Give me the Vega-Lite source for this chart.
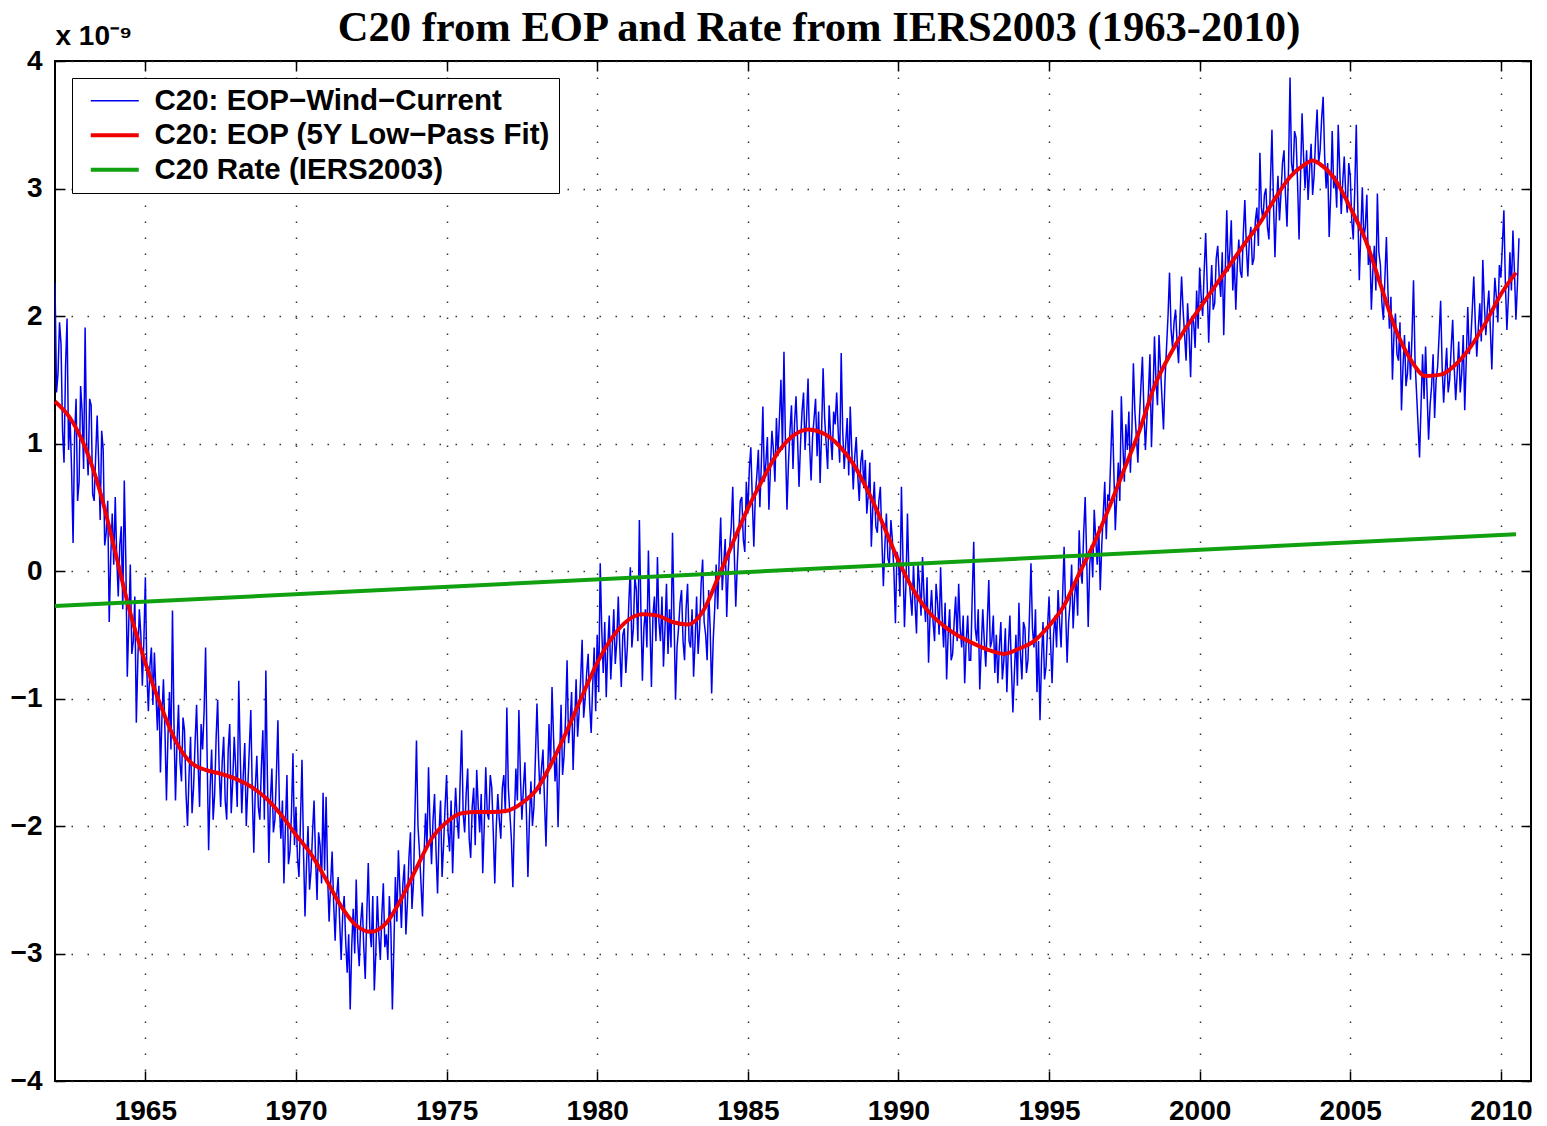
{
 "$schema": "https://vega.github.io/schema/vega-lite/v6.json",
 "width": 1476, "height": 1020,
 "autosize": {"type": "none"},
 "padding": {"left": 55, "top": 61, "right": 16, "bottom": 45},
 "background": "white",
 "title": {"text": "C20 from EOP and Rate from IERS2003 (1963-2010)", "font": "Liberation Serif", "fontSize": 42.6, "fontWeight": "bold", "color": "black", "anchor": "middle", "frame": "group", "baseline": "alphabetic", "offset": -62, "dx": 26},
 "config": {
  "view": {"stroke": "black", "strokeWidth": 2},
  "axis": {"labelFont": "Liberation Sans", "labelFontWeight": "bold", "labelFontSize": 28, "labelColor": "black", "tickColor": "black", "tickWidth": 1.5, "domain": false}
 },
 "datasets": {
  "blue": [
{"t":1962.0,"v":2.26},{"t":1962.05,"v":1.40},{"t":1962.1,"v":1.55},{"t":1962.15,"v":1.95},{"t":1962.2,"v":1.78},{"t":1962.25,"v":1.10},{"t":1962.3,"v":0.85},{"t":1962.35,"v":1.60},{"t":1962.4,"v":1.98},{"t":1962.45,"v":0.95},{"t":1962.5,"v":1.20},{"t":1962.55,"v":0.80},{"t":1962.6,"v":0.22},{"t":1962.65,"v":1.05},{"t":1962.7,"v":1.35},{"t":1962.75,"v":0.55},{"t":1962.8,"v":0.70},{"t":1962.85,"v":1.45},{"t":1962.9,"v":1.25},{"t":1962.95,"v":0.80},
{"t":1963.0,"v":1.91},{"t":1963.05,"v":1.00},{"t":1963.1,"v":0.75},{"t":1963.15,"v":1.35},{"t":1963.2,"v":1.30},{"t":1963.25,"v":0.60},{"t":1963.3,"v":0.55},{"t":1963.35,"v":0.90},{"t":1963.4,"v":1.22},{"t":1963.45,"v":0.85},{"t":1963.5,"v":0.40},{"t":1963.55,"v":1.10},{"t":1963.6,"v":0.95},{"t":1963.65,"v":0.20},{"t":1963.7,"v":0.30},{"t":1963.75,"v":0.55},{"t":1963.8,"v":-0.40},{"t":1963.85,"v":0.10},{"t":1963.9,"v":0.45},{"t":1963.95,"v":0.05},
{"t":1964.0,"v":0.58},{"t":1964.05,"v":0.10},{"t":1964.1,"v":-0.20},{"t":1964.15,"v":0.20},{"t":1964.2,"v":0.35},{"t":1964.25,"v":-0.30},{"t":1964.3,"v":0.71},{"t":1964.35,"v":0.10},{"t":1964.4,"v":-0.83},{"t":1964.45,"v":-0.40},{"t":1964.5,"v":0.05},{"t":1964.55,"v":-0.65},{"t":1964.6,"v":-0.55},{"t":1964.65,"v":-0.20},{"t":1964.7,"v":-1.19},{"t":1964.75,"v":-0.70},{"t":1964.8,"v":-0.30},{"t":1964.85,"v":-0.50},{"t":1964.9,"v":-0.90},{"t":1964.95,"v":-0.55},
{"t":1965.0,"v":-0.05},{"t":1965.05,"v":-0.80},{"t":1965.1,"v":-1.10},{"t":1965.15,"v":-0.75},{"t":1965.2,"v":-0.60},{"t":1965.25,"v":-1.05},{"t":1965.3,"v":-0.64},{"t":1965.35,"v":-0.95},{"t":1965.4,"v":-1.25},{"t":1965.45,"v":-0.90},{"t":1965.5,"v":-1.58},{"t":1965.55,"v":-1.15},{"t":1965.6,"v":-0.85},{"t":1965.65,"v":-1.25},{"t":1965.7,"v":-1.80},{"t":1965.75,"v":-1.30},{"t":1965.8,"v":-0.95},{"t":1965.85,"v":-1.40},{"t":1965.9,"v":-0.31},{"t":1965.95,"v":-1.20},
{"t":1966.0,"v":-1.80},{"t":1966.05,"v":-1.35},{"t":1966.1,"v":-1.05},{"t":1966.15,"v":-1.50},{"t":1966.2,"v":-1.65},{"t":1966.25,"v":-1.15},{"t":1966.3,"v":-1.25},{"t":1966.35,"v":-1.75},{"t":1966.4,"v":-2.00},{"t":1966.45,"v":-1.60},{"t":1966.5,"v":-1.30},{"t":1966.55,"v":-1.90},{"t":1966.6,"v":-1.70},{"t":1966.65,"v":-1.35},{"t":1966.7,"v":-1.05},{"t":1966.75,"v":-1.50},{"t":1966.8,"v":-1.85},{"t":1966.85,"v":-1.20},{"t":1966.9,"v":-1.40},{"t":1966.95,"v":-1.10},
{"t":1967.0,"v":-0.60},{"t":1967.05,"v":-1.45},{"t":1967.1,"v":-2.19},{"t":1967.15,"v":-1.70},{"t":1967.2,"v":-1.40},{"t":1967.25,"v":-1.95},{"t":1967.3,"v":-1.75},{"t":1967.35,"v":-1.30},{"t":1967.4,"v":-1.01},{"t":1967.45,"v":-1.55},{"t":1967.5,"v":-1.85},{"t":1967.55,"v":-1.50},{"t":1967.6,"v":-1.30},{"t":1967.65,"v":-1.80},{"t":1967.7,"v":-1.95},{"t":1967.75,"v":-1.40},{"t":1967.8,"v":-1.20},{"t":1967.85,"v":-1.90},{"t":1967.9,"v":-1.65},{"t":1967.95,"v":-1.30},
{"t":1968.0,"v":-1.55},{"t":1968.05,"v":-1.85},{"t":1968.1,"v":-0.86},{"t":1968.15,"v":-1.45},{"t":1968.2,"v":-1.90},{"t":1968.25,"v":-1.60},{"t":1968.3,"v":-1.35},{"t":1968.35,"v":-2.00},{"t":1968.4,"v":-1.70},{"t":1968.45,"v":-1.40},{"t":1968.5,"v":-1.09},{"t":1968.55,"v":-1.75},{"t":1968.6,"v":-2.21},{"t":1968.65,"v":-1.70},{"t":1968.7,"v":-1.45},{"t":1968.75,"v":-1.85},{"t":1968.8,"v":-1.95},{"t":1968.85,"v":-1.55},{"t":1968.9,"v":-1.25},{"t":1968.95,"v":-1.95},
{"t":1969.0,"v":-0.78},{"t":1969.05,"v":-1.60},{"t":1969.1,"v":-2.29},{"t":1969.15,"v":-1.80},{"t":1969.2,"v":-1.55},{"t":1969.25,"v":-2.05},{"t":1969.3,"v":-1.95},{"t":1969.35,"v":-1.60},{"t":1969.4,"v":-1.17},{"t":1969.45,"v":-1.85},{"t":1969.5,"v":-2.10},{"t":1969.55,"v":-1.80},{"t":1969.6,"v":-2.45},{"t":1969.65,"v":-2.00},{"t":1969.7,"v":-1.60},{"t":1969.75,"v":-2.30},{"t":1969.8,"v":-2.20},{"t":1969.85,"v":-1.90},{"t":1969.9,"v":-1.43},{"t":1969.95,"v":-2.15},
{"t":1970.0,"v":-1.85},{"t":1970.05,"v":-2.25},{"t":1970.1,"v":-2.40},{"t":1970.15,"v":-1.95},{"t":1970.2,"v":-1.48},{"t":1970.25,"v":-2.20},{"t":1970.3,"v":-2.71},{"t":1970.35,"v":-2.30},{"t":1970.4,"v":-2.00},{"t":1970.45,"v":-2.50},{"t":1970.5,"v":-2.35},{"t":1970.55,"v":-2.05},{"t":1970.6,"v":-1.80},{"t":1970.65,"v":-2.25},{"t":1970.7,"v":-2.58},{"t":1970.75,"v":-2.05},{"t":1970.8,"v":-2.15},{"t":1970.85,"v":-2.45},{"t":1970.9,"v":-1.74},{"t":1970.95,"v":-2.35},
{"t":1971.0,"v":-1.77},{"t":1971.05,"v":-2.40},{"t":1971.1,"v":-2.75},{"t":1971.15,"v":-2.45},{"t":1971.2,"v":-2.20},{"t":1971.25,"v":-2.60},{"t":1971.3,"v":-2.90},{"t":1971.35,"v":-2.55},{"t":1971.4,"v":-2.40},{"t":1971.45,"v":-2.75},{"t":1971.5,"v":-3.05},{"t":1971.55,"v":-2.70},{"t":1971.6,"v":-2.55},{"t":1971.65,"v":-2.90},{"t":1971.7,"v":-3.15},{"t":1971.75,"v":-2.85},{"t":1971.8,"v":-3.44},{"t":1971.85,"v":-2.95},{"t":1971.9,"v":-2.65},{"t":1971.95,"v":-3.00},
{"t":1972.0,"v":-2.42},{"t":1972.05,"v":-2.90},{"t":1972.1,"v":-3.10},{"t":1972.15,"v":-2.75},{"t":1972.2,"v":-2.60},{"t":1972.25,"v":-2.95},{"t":1972.3,"v":-3.20},{"t":1972.35,"v":-2.70},{"t":1972.4,"v":-2.29},{"t":1972.45,"v":-2.80},{"t":1972.5,"v":-2.95},{"t":1972.55,"v":-2.55},{"t":1972.6,"v":-3.29},{"t":1972.65,"v":-3.00},{"t":1972.7,"v":-2.55},{"t":1972.75,"v":-2.85},{"t":1972.8,"v":-3.05},{"t":1972.85,"v":-2.70},{"t":1972.9,"v":-2.45},{"t":1972.95,"v":-2.95},
{"t":1973.0,"v":-2.85},{"t":1973.05,"v":-3.05},{"t":1973.1,"v":-2.55},{"t":1973.15,"v":-2.80},{"t":1973.2,"v":-3.44},{"t":1973.25,"v":-2.95},{"t":1973.3,"v":-2.40},{"t":1973.35,"v":-2.75},{"t":1973.4,"v":-2.19},{"t":1973.45,"v":-2.50},{"t":1973.5,"v":-2.80},{"t":1973.55,"v":-2.45},{"t":1973.6,"v":-2.30},{"t":1973.65,"v":-2.85},{"t":1973.7,"v":-2.60},{"t":1973.75,"v":-2.25},{"t":1973.8,"v":-2.05},{"t":1973.85,"v":-2.65},{"t":1973.9,"v":-2.45},{"t":1973.95,"v":-1.90},
{"t":1974.0,"v":-1.33},{"t":1974.05,"v":-2.00},{"t":1974.1,"v":-2.20},{"t":1974.15,"v":-2.45},{"t":1974.2,"v":-2.71},{"t":1974.25,"v":-2.25},{"t":1974.3,"v":-1.90},{"t":1974.35,"v":-2.15},{"t":1974.4,"v":-1.54},{"t":1974.45,"v":-2.00},{"t":1974.5,"v":-2.30},{"t":1974.55,"v":-1.95},{"t":1974.6,"v":-1.75},{"t":1974.65,"v":-2.20},{"t":1974.7,"v":-2.53},{"t":1974.75,"v":-2.05},{"t":1974.8,"v":-1.80},{"t":1974.85,"v":-2.40},{"t":1974.9,"v":-2.15},{"t":1974.95,"v":-1.85},
{"t":1975.0,"v":-1.60},{"t":1975.05,"v":-2.05},{"t":1975.1,"v":-2.20},{"t":1975.15,"v":-1.80},{"t":1975.2,"v":-2.37},{"t":1975.25,"v":-2.00},{"t":1975.3,"v":-1.70},{"t":1975.35,"v":-1.95},{"t":1975.4,"v":-2.10},{"t":1975.45,"v":-1.65},{"t":1975.5,"v":-1.25},{"t":1975.55,"v":-1.90},{"t":1975.6,"v":-2.05},{"t":1975.65,"v":-1.75},{"t":1975.7,"v":-1.55},{"t":1975.75,"v":-2.10},{"t":1975.8,"v":-2.25},{"t":1975.85,"v":-1.85},{"t":1975.9,"v":-1.70},{"t":1975.95,"v":-2.15},
{"t":1976.0,"v":-1.56},{"t":1976.05,"v":-1.85},{"t":1976.1,"v":-2.05},{"t":1976.15,"v":-1.75},{"t":1976.2,"v":-2.37},{"t":1976.25,"v":-2.00},{"t":1976.3,"v":-1.54},{"t":1976.35,"v":-1.90},{"t":1976.4,"v":-1.95},{"t":1976.45,"v":-1.60},{"t":1976.5,"v":-1.70},{"t":1976.55,"v":-2.05},{"t":1976.6,"v":-2.45},{"t":1976.65,"v":-2.00},{"t":1976.7,"v":-1.75},{"t":1976.75,"v":-1.95},{"t":1976.8,"v":-2.10},{"t":1976.85,"v":-1.70},{"t":1976.9,"v":-1.60},{"t":1976.95,"v":-1.90},
{"t":1977.0,"v":-1.07},{"t":1977.05,"v":-1.70},{"t":1977.1,"v":-1.90},{"t":1977.15,"v":-2.10},{"t":1977.2,"v":-2.48},{"t":1977.25,"v":-1.95},{"t":1977.3,"v":-1.55},{"t":1977.35,"v":-1.80},{"t":1977.4,"v":-1.09},{"t":1977.45,"v":-1.60},{"t":1977.5,"v":-1.95},{"t":1977.55,"v":-1.70},{"t":1977.6,"v":-1.50},{"t":1977.65,"v":-1.90},{"t":1977.7,"v":-2.40},{"t":1977.75,"v":-1.95},{"t":1977.8,"v":-1.65},{"t":1977.85,"v":-2.00},{"t":1977.9,"v":-1.85},{"t":1977.95,"v":-1.45},
{"t":1978.0,"v":-1.04},{"t":1978.05,"v":-1.45},{"t":1978.1,"v":-1.75},{"t":1978.15,"v":-1.55},{"t":1978.2,"v":-1.40},{"t":1978.25,"v":-1.80},{"t":1978.3,"v":-2.16},{"t":1978.35,"v":-1.65},{"t":1978.4,"v":-1.20},{"t":1978.45,"v":-1.55},{"t":1978.5,"v":-0.91},{"t":1978.55,"v":-1.30},{"t":1978.6,"v":-1.65},{"t":1978.65,"v":-1.45},{"t":1978.7,"v":-2.01},{"t":1978.75,"v":-1.50},{"t":1978.8,"v":-1.05},{"t":1978.85,"v":-1.60},{"t":1978.9,"v":-1.45},{"t":1978.95,"v":-1.15},
{"t":1979.0,"v":-0.70},{"t":1979.05,"v":-1.35},{"t":1979.1,"v":-1.20},{"t":1979.15,"v":-0.95},{"t":1979.2,"v":-1.56},{"t":1979.25,"v":-1.20},{"t":1979.3,"v":-0.85},{"t":1979.35,"v":-1.30},{"t":1979.4,"v":-1.10},{"t":1979.45,"v":-0.85},{"t":1979.5,"v":-0.54},{"t":1979.55,"v":-1.15},{"t":1979.6,"v":-1.00},{"t":1979.65,"v":-0.80},{"t":1979.7,"v":-0.65},{"t":1979.75,"v":-1.05},{"t":1979.8,"v":-1.27},{"t":1979.85,"v":-0.90},{"t":1979.9,"v":-0.60},{"t":1979.95,"v":-1.10},
{"t":1980.0,"v":-0.50},{"t":1980.05,"v":-0.95},{"t":1980.1,"v":0.06},{"t":1980.15,"v":-0.45},{"t":1980.2,"v":-0.80},{"t":1980.25,"v":-0.40},{"t":1980.3,"v":-0.99},{"t":1980.35,"v":-0.60},{"t":1980.4,"v":-0.35},{"t":1980.45,"v":-0.85},{"t":1980.5,"v":-0.60},{"t":1980.55,"v":-0.30},{"t":1980.6,"v":-0.73},{"t":1980.65,"v":-0.55},{"t":1980.7,"v":-0.20},{"t":1980.75,"v":-0.60},{"t":1980.8,"v":-0.91},{"t":1980.85,"v":-0.50},{"t":1980.9,"v":-0.45},{"t":1980.95,"v":-0.80},
{"t":1981.0,"v":-0.60},{"t":1981.05,"v":-0.25},{"t":1981.1,"v":0.03},{"t":1981.15,"v":-0.60},{"t":1981.2,"v":-0.45},{"t":1981.25,"v":-0.05},{"t":1981.3,"v":-0.15},{"t":1981.35,"v":-0.55},{"t":1981.4,"v":0.40},{"t":1981.45,"v":-0.30},{"t":1981.5,"v":-0.86},{"t":1981.55,"v":-0.45},{"t":1981.6,"v":-0.30},{"t":1981.65,"v":-0.60},{"t":1981.7,"v":0.16},{"t":1981.75,"v":-0.40},{"t":1981.8,"v":-0.91},{"t":1981.85,"v":-0.35},{"t":1981.9,"v":-0.20},{"t":1981.95,"v":-0.55},
{"t":1982.0,"v":0.11},{"t":1982.05,"v":-0.40},{"t":1982.1,"v":-0.55},{"t":1982.15,"v":-0.20},{"t":1982.2,"v":-0.75},{"t":1982.25,"v":-0.45},{"t":1982.3,"v":-0.10},{"t":1982.35,"v":-0.65},{"t":1982.4,"v":-0.30},{"t":1982.45,"v":-0.60},{"t":1982.5,"v":0.30},{"t":1982.55,"v":-0.35},{"t":1982.6,"v":-1.01},{"t":1982.65,"v":-0.60},{"t":1982.7,"v":-0.45},{"t":1982.75,"v":-0.25},{"t":1982.8,"v":-0.15},{"t":1982.85,"v":-0.55},{"t":1982.9,"v":-0.70},{"t":1982.95,"v":-0.30},
{"t":1983.0,"v":-0.10},{"t":1983.05,"v":-0.55},{"t":1983.1,"v":-0.60},{"t":1983.15,"v":-0.30},{"t":1983.2,"v":-0.83},{"t":1983.25,"v":-0.55},{"t":1983.3,"v":-0.20},{"t":1983.35,"v":-0.65},{"t":1983.4,"v":-0.45},{"t":1983.45,"v":-0.10},{"t":1983.5,"v":0.09},{"t":1983.55,"v":-0.40},{"t":1983.6,"v":-0.50},{"t":1983.65,"v":-0.70},{"t":1983.7,"v":-0.15},{"t":1983.75,"v":-0.45},{"t":1983.8,"v":-0.96},{"t":1983.85,"v":-0.55},{"t":1983.9,"v":-0.30},{"t":1983.95,"v":0.05},
{"t":1984.0,"v":-0.30},{"t":1984.05,"v":0.10},{"t":1984.1,"v":0.42},{"t":1984.15,"v":-0.15},{"t":1984.2,"v":0.05},{"t":1984.25,"v":0.25},{"t":1984.3,"v":-0.36},{"t":1984.35,"v":0.00},{"t":1984.4,"v":0.20},{"t":1984.45,"v":0.35},{"t":1984.5,"v":0.66},{"t":1984.55,"v":0.15},{"t":1984.6,"v":-0.28},{"t":1984.65,"v":0.05},{"t":1984.7,"v":0.30},{"t":1984.75,"v":0.55},{"t":1984.8,"v":0.58},{"t":1984.85,"v":0.25},{"t":1984.9,"v":0.15},{"t":1984.95,"v":0.70},
{"t":1985.0,"v":0.45},{"t":1985.05,"v":0.80},{"t":1985.1,"v":0.97},{"t":1985.15,"v":0.55},{"t":1985.2,"v":0.19},{"t":1985.25,"v":0.60},{"t":1985.3,"v":0.75},{"t":1985.35,"v":0.95},{"t":1985.4,"v":0.50},{"t":1985.45,"v":0.85},{"t":1985.5,"v":1.29},{"t":1985.55,"v":0.70},{"t":1985.6,"v":0.85},{"t":1985.65,"v":1.05},{"t":1985.7,"v":0.48},{"t":1985.75,"v":0.80},{"t":1985.8,"v":1.10},{"t":1985.85,"v":0.95},{"t":1985.9,"v":0.70},{"t":1985.95,"v":1.20},
{"t":1986.0,"v":0.90},{"t":1986.05,"v":1.20},{"t":1986.1,"v":1.50},{"t":1986.15,"v":0.95},{"t":1986.2,"v":1.72},{"t":1986.25,"v":1.00},{"t":1986.3,"v":0.48},{"t":1986.35,"v":0.85},{"t":1986.4,"v":1.10},{"t":1986.45,"v":1.30},{"t":1986.5,"v":0.80},{"t":1986.55,"v":1.15},{"t":1986.6,"v":1.37},{"t":1986.65,"v":1.05},{"t":1986.7,"v":0.66},{"t":1986.75,"v":1.00},{"t":1986.8,"v":1.25},{"t":1986.85,"v":1.40},{"t":1986.9,"v":0.95},{"t":1986.95,"v":1.20},
{"t":1987.0,"v":1.51},{"t":1987.05,"v":1.00},{"t":1987.1,"v":0.71},{"t":1987.15,"v":1.05},{"t":1987.2,"v":1.20},{"t":1987.25,"v":1.35},{"t":1987.3,"v":0.90},{"t":1987.35,"v":1.25},{"t":1987.4,"v":0.69},{"t":1987.45,"v":1.10},{"t":1987.5,"v":1.59},{"t":1987.55,"v":1.20},{"t":1987.6,"v":1.00},{"t":1987.65,"v":0.80},{"t":1987.7,"v":1.30},{"t":1987.75,"v":1.05},{"t":1987.8,"v":0.87},{"t":1987.85,"v":1.25},{"t":1987.9,"v":1.15},{"t":1987.95,"v":1.40},
{"t":1988.0,"v":1.10},{"t":1988.05,"v":0.85},{"t":1988.1,"v":1.71},{"t":1988.15,"v":1.10},{"t":1988.2,"v":0.80},{"t":1988.25,"v":1.00},{"t":1988.3,"v":1.20},{"t":1988.35,"v":0.75},{"t":1988.4,"v":1.29},{"t":1988.45,"v":0.95},{"t":1988.5,"v":0.64},{"t":1988.55,"v":0.90},{"t":1988.6,"v":1.05},{"t":1988.65,"v":0.75},{"t":1988.7,"v":0.55},{"t":1988.75,"v":0.85},{"t":1988.8,"v":0.95},{"t":1988.85,"v":0.65},{"t":1988.9,"v":0.87},{"t":1988.95,"v":0.45},
{"t":1989.0,"v":0.60},{"t":1989.05,"v":0.85},{"t":1989.1,"v":0.19},{"t":1989.15,"v":0.50},{"t":1989.2,"v":0.70},{"t":1989.25,"v":0.35},{"t":1989.3,"v":0.30},{"t":1989.35,"v":0.55},{"t":1989.4,"v":0.66},{"t":1989.45,"v":0.25},{"t":1989.5,"v":-0.12},{"t":1989.55,"v":0.20},{"t":1989.6,"v":0.45},{"t":1989.65,"v":0.10},{"t":1989.7,"v":0.05},{"t":1989.75,"v":0.40},{"t":1989.8,"v":0.24},{"t":1989.85,"v":0.00},{"t":1989.9,"v":-0.41},{"t":1989.95,"v":0.15},
{"t":1990.0,"v":0.10},{"t":1990.05,"v":-0.20},{"t":1990.1,"v":0.66},{"t":1990.15,"v":0.10},{"t":1990.2,"v":-0.44},{"t":1990.25,"v":-0.10},{"t":1990.3,"v":0.45},{"t":1990.35,"v":-0.05},{"t":1990.4,"v":-0.20},{"t":1990.45,"v":-0.35},{"t":1990.5,"v":0.05},{"t":1990.55,"v":-0.25},{"t":1990.6,"v":-0.49},{"t":1990.65,"v":0.05},{"t":1990.7,"v":-0.10},{"t":1990.75,"v":-0.35},{"t":1990.8,"v":0.11},{"t":1990.85,"v":-0.20},{"t":1990.9,"v":-0.40},{"t":1990.95,"v":-0.05},
{"t":1991.0,"v":-0.72},{"t":1991.05,"v":-0.35},{"t":1991.1,"v":-0.15},{"t":1991.15,"v":-0.40},{"t":1991.2,"v":-0.55},{"t":1991.25,"v":-0.10},{"t":1991.3,"v":-0.25},{"t":1991.35,"v":-0.50},{"t":1991.4,"v":0.03},{"t":1991.45,"v":-0.35},{"t":1991.5,"v":-0.60},{"t":1991.55,"v":-0.25},{"t":1991.6,"v":-0.85},{"t":1991.65,"v":-0.50},{"t":1991.7,"v":-0.30},{"t":1991.75,"v":-0.70},{"t":1991.8,"v":-0.65},{"t":1991.85,"v":-0.40},{"t":1991.9,"v":-0.20},{"t":1991.95,"v":-0.55},
{"t":1992.0,"v":-0.10},{"t":1992.05,"v":-0.45},{"t":1992.1,"v":-0.60},{"t":1992.15,"v":-0.35},{"t":1992.2,"v":-0.88},{"t":1992.25,"v":-0.55},{"t":1992.3,"v":-0.35},{"t":1992.35,"v":-0.70},{"t":1992.4,"v":-0.70},{"t":1992.45,"v":-0.20},{"t":1992.5,"v":0.23},{"t":1992.55,"v":-0.45},{"t":1992.6,"v":-0.55},{"t":1992.65,"v":-0.30},{"t":1992.7,"v":-0.93},{"t":1992.75,"v":-0.60},{"t":1992.8,"v":-0.30},{"t":1992.85,"v":-0.55},{"t":1992.9,"v":-0.75},{"t":1992.95,"v":-0.40},
{"t":1993.0,"v":-0.07},{"t":1993.05,"v":-0.60},{"t":1993.1,"v":-0.55},{"t":1993.15,"v":-0.35},{"t":1993.2,"v":-0.80},{"t":1993.25,"v":-0.50},{"t":1993.3,"v":-0.88},{"t":1993.35,"v":-0.60},{"t":1993.4,"v":-0.40},{"t":1993.45,"v":-0.85},{"t":1993.5,"v":-0.70},{"t":1993.55,"v":-0.45},{"t":1993.6,"v":-0.95},{"t":1993.65,"v":-0.60},{"t":1993.7,"v":-0.35},{"t":1993.75,"v":-0.75},{"t":1993.8,"v":-1.11},{"t":1993.85,"v":-0.80},{"t":1993.9,"v":-0.50},{"t":1993.95,"v":-0.90},
{"t":1994.0,"v":-0.25},{"t":1994.05,"v":-0.65},{"t":1994.1,"v":-0.85},{"t":1994.15,"v":-0.40},{"t":1994.2,"v":-0.45},{"t":1994.25,"v":-0.80},{"t":1994.3,"v":-0.70},{"t":1994.35,"v":-0.35},{"t":1994.4,"v":0.06},{"t":1994.45,"v":-0.45},{"t":1994.5,"v":-0.60},{"t":1994.55,"v":-0.30},{"t":1994.6,"v":-0.95},{"t":1994.65,"v":-0.55},{"t":1994.7,"v":-1.17},{"t":1994.75,"v":-0.70},{"t":1994.8,"v":-0.40},{"t":1994.85,"v":-0.85},{"t":1994.9,"v":-0.75},{"t":1994.95,"v":-0.45},
{"t":1995.0,"v":-0.20},{"t":1995.05,"v":-0.55},{"t":1995.1,"v":-0.88},{"t":1995.15,"v":-0.50},{"t":1995.2,"v":-0.35},{"t":1995.25,"v":-0.60},{"t":1995.3,"v":-0.15},{"t":1995.35,"v":-0.40},{"t":1995.4,"v":-0.60},{"t":1995.45,"v":-0.20},{"t":1995.5,"v":0.19},{"t":1995.55,"v":-0.30},{"t":1995.6,"v":-0.72},{"t":1995.65,"v":-0.40},{"t":1995.7,"v":-0.25},{"t":1995.75,"v":0.05},{"t":1995.8,"v":-0.45},{"t":1995.85,"v":-0.20},{"t":1995.9,"v":-0.05},{"t":1995.95,"v":-0.35},
{"t":1996.0,"v":0.32},{"t":1996.05,"v":0.00},{"t":1996.1,"v":-0.10},{"t":1996.15,"v":0.30},{"t":1996.2,"v":0.58},{"t":1996.25,"v":0.10},{"t":1996.3,"v":-0.44},{"t":1996.35,"v":0.05},{"t":1996.4,"v":0.20},{"t":1996.45,"v":-0.05},{"t":1996.5,"v":0.48},{"t":1996.55,"v":0.25},{"t":1996.6,"v":0.05},{"t":1996.65,"v":0.35},{"t":1996.7,"v":-0.15},{"t":1996.75,"v":0.20},{"t":1996.8,"v":0.45},{"t":1996.85,"v":0.70},{"t":1996.9,"v":0.25},{"t":1996.95,"v":0.60},
{"t":1997.0,"v":0.55},{"t":1997.05,"v":0.90},{"t":1997.1,"v":1.26},{"t":1997.15,"v":0.80},{"t":1997.2,"v":0.32},{"t":1997.25,"v":0.60},{"t":1997.3,"v":0.85},{"t":1997.35,"v":0.55},{"t":1997.4,"v":1.37},{"t":1997.45,"v":1.00},{"t":1997.5,"v":0.70},{"t":1997.55,"v":1.15},{"t":1997.6,"v":0.95},{"t":1997.65,"v":1.25},{"t":1997.7,"v":0.77},{"t":1997.75,"v":1.10},{"t":1997.8,"v":1.63},{"t":1997.85,"v":1.25},{"t":1997.9,"v":1.05},{"t":1997.95,"v":0.85},
{"t":1998.0,"v":1.20},{"t":1998.05,"v":1.45},{"t":1998.1,"v":1.68},{"t":1998.15,"v":1.25},{"t":1998.2,"v":0.95},{"t":1998.25,"v":1.20},{"t":1998.3,"v":1.40},{"t":1998.35,"v":1.70},{"t":1998.4,"v":0.97},{"t":1998.45,"v":1.35},{"t":1998.5,"v":1.84},{"t":1998.55,"v":1.50},{"t":1998.6,"v":1.30},{"t":1998.65,"v":1.85},{"t":1998.7,"v":1.60},{"t":1998.75,"v":1.35},{"t":1998.8,"v":1.11},{"t":1998.85,"v":1.50},{"t":1998.9,"v":1.75},{"t":1998.95,"v":2.00},
{"t":1999.0,"v":2.34},{"t":1999.05,"v":1.90},{"t":1999.1,"v":1.75},{"t":1999.15,"v":1.95},{"t":1999.2,"v":2.05},{"t":1999.25,"v":1.80},{"t":1999.3,"v":1.63},{"t":1999.35,"v":2.00},{"t":1999.4,"v":2.31},{"t":1999.45,"v":2.05},{"t":1999.5,"v":1.85},{"t":1999.55,"v":1.65},{"t":1999.6,"v":2.10},{"t":1999.65,"v":1.85},{"t":1999.7,"v":1.52},{"t":1999.75,"v":2.00},{"t":1999.8,"v":1.95},{"t":1999.85,"v":1.75},{"t":1999.9,"v":2.20},{"t":1999.95,"v":1.90},
{"t":2000.0,"v":2.38},{"t":2000.05,"v":2.15},{"t":2000.1,"v":2.00},{"t":2000.15,"v":2.35},{"t":2000.2,"v":2.65},{"t":2000.25,"v":2.25},{"t":2000.3,"v":1.79},{"t":2000.35,"v":2.15},{"t":2000.4,"v":2.40},{"t":2000.45,"v":2.05},{"t":2000.5,"v":2.10},{"t":2000.55,"v":2.45},{"t":2000.6,"v":2.55},{"t":2000.65,"v":2.30},{"t":2000.7,"v":2.15},{"t":2000.75,"v":2.50},{"t":2000.8,"v":1.85},{"t":2000.85,"v":2.35},{"t":2000.9,"v":2.83},{"t":2000.95,"v":2.35},
{"t":2001.0,"v":2.50},{"t":2001.05,"v":2.75},{"t":2001.1,"v":2.20},{"t":2001.15,"v":2.45},{"t":2001.2,"v":2.05},{"t":2001.25,"v":2.40},{"t":2001.3,"v":2.60},{"t":2001.35,"v":2.35},{"t":2001.4,"v":2.30},{"t":2001.45,"v":2.65},{"t":2001.5,"v":2.91},{"t":2001.55,"v":2.55},{"t":2001.6,"v":2.31},{"t":2001.65,"v":2.60},{"t":2001.7,"v":2.70},{"t":2001.75,"v":2.40},{"t":2001.8,"v":2.45},{"t":2001.85,"v":2.75},{"t":2001.9,"v":2.85},{"t":2001.95,"v":2.55},
{"t":2002.0,"v":3.28},{"t":2002.05,"v":2.85},{"t":2002.1,"v":2.75},{"t":2002.15,"v":2.95},{"t":2002.2,"v":3.00},{"t":2002.25,"v":2.70},{"t":2002.3,"v":2.60},{"t":2002.35,"v":3.05},{"t":2002.4,"v":3.46},{"t":2002.45,"v":2.90},{"t":2002.5,"v":2.46},{"t":2002.55,"v":2.85},{"t":2002.6,"v":3.10},{"t":2002.65,"v":2.75},{"t":2002.7,"v":2.96},{"t":2002.75,"v":3.20},{"t":2002.8,"v":3.30},{"t":2002.85,"v":2.95},{"t":2002.9,"v":2.70},{"t":2002.95,"v":3.15},
{"t":2003.0,"v":3.87},{"t":2003.05,"v":3.20},{"t":2003.1,"v":3.10},{"t":2003.15,"v":3.45},{"t":2003.2,"v":3.40},{"t":2003.25,"v":3.05},{"t":2003.3,"v":2.60},{"t":2003.35,"v":3.10},{"t":2003.4,"v":3.59},{"t":2003.45,"v":3.25},{"t":2003.5,"v":3.00},{"t":2003.55,"v":3.30},{"t":2003.6,"v":2.91},{"t":2003.65,"v":3.15},{"t":2003.7,"v":3.35},{"t":2003.75,"v":2.95},{"t":2003.8,"v":3.10},{"t":2003.85,"v":3.40},{"t":2003.9,"v":3.62},{"t":2003.95,"v":3.20},
{"t":2004.0,"v":3.30},{"t":2004.05,"v":3.55},{"t":2004.1,"v":3.72},{"t":2004.15,"v":3.25},{"t":2004.2,"v":3.00},{"t":2004.25,"v":3.20},{"t":2004.3,"v":2.62},{"t":2004.35,"v":2.95},{"t":2004.4,"v":3.45},{"t":2004.45,"v":3.00},{"t":2004.5,"v":3.10},{"t":2004.55,"v":2.85},{"t":2004.6,"v":3.50},{"t":2004.65,"v":3.15},{"t":2004.7,"v":2.80},{"t":2004.75,"v":3.05},{"t":2004.8,"v":3.25},{"t":2004.85,"v":2.95},{"t":2004.9,"v":2.81},{"t":2004.95,"v":3.20},
{"t":2005.0,"v":3.10},{"t":2005.05,"v":2.75},{"t":2005.1,"v":2.60},{"t":2005.15,"v":3.00},{"t":2005.2,"v":3.50},{"t":2005.25,"v":2.85},{"t":2005.3,"v":2.28},{"t":2005.35,"v":2.65},{"t":2005.4,"v":3.01},{"t":2005.45,"v":2.60},{"t":2005.5,"v":2.70},{"t":2005.55,"v":2.95},{"t":2005.6,"v":2.40},{"t":2005.65,"v":2.55},{"t":2005.7,"v":2.05},{"t":2005.75,"v":2.35},{"t":2005.8,"v":2.55},{"t":2005.85,"v":2.20},{"t":2005.9,"v":2.96},{"t":2005.95,"v":2.50},
{"t":2006.0,"v":2.40},{"t":2006.05,"v":2.10},{"t":2006.1,"v":1.97},{"t":2006.15,"v":2.30},{"t":2006.2,"v":2.62},{"t":2006.25,"v":2.20},{"t":2006.3,"v":1.90},{"t":2006.35,"v":2.15},{"t":2006.4,"v":1.50},{"t":2006.45,"v":1.85},{"t":2006.5,"v":2.02},{"t":2006.55,"v":1.70},{"t":2006.6,"v":1.65},{"t":2006.65,"v":1.95},{"t":2006.7,"v":1.26},{"t":2006.75,"v":1.60},{"t":2006.8,"v":1.85},{"t":2006.85,"v":1.45},{"t":2006.9,"v":1.55},{"t":2006.95,"v":1.80},
{"t":2007.0,"v":1.50},{"t":2007.05,"v":1.85},{"t":2007.1,"v":2.28},{"t":2007.15,"v":1.65},{"t":2007.2,"v":1.40},{"t":2007.25,"v":1.15},{"t":2007.3,"v":0.89},{"t":2007.35,"v":1.30},{"t":2007.4,"v":1.70},{"t":2007.45,"v":1.35},{"t":2007.5,"v":1.76},{"t":2007.55,"v":1.40},{"t":2007.6,"v":1.03},{"t":2007.65,"v":1.30},{"t":2007.7,"v":1.45},{"t":2007.75,"v":1.70},{"t":2007.8,"v":1.20},{"t":2007.85,"v":1.50},{"t":2007.9,"v":1.60},{"t":2007.95,"v":1.85},
{"t":2008.0,"v":2.12},{"t":2008.05,"v":1.60},{"t":2008.1,"v":1.32},{"t":2008.15,"v":1.55},{"t":2008.2,"v":1.75},{"t":2008.25,"v":1.40},{"t":2008.3,"v":1.50},{"t":2008.35,"v":1.75},{"t":2008.4,"v":1.97},{"t":2008.45,"v":1.60},{"t":2008.5,"v":1.34},{"t":2008.55,"v":1.55},{"t":2008.6,"v":1.80},{"t":2008.65,"v":1.40},{"t":2008.7,"v":1.55},{"t":2008.75,"v":1.85},{"t":2008.8,"v":1.26},{"t":2008.85,"v":1.65},{"t":2008.9,"v":2.07},{"t":2008.95,"v":1.70},
{"t":2009.0,"v":1.80},{"t":2009.05,"v":2.05},{"t":2009.1,"v":2.31},{"t":2009.15,"v":1.95},{"t":2009.2,"v":1.68},{"t":2009.25,"v":1.90},{"t":2009.3,"v":2.10},{"t":2009.35,"v":1.80},{"t":2009.4,"v":2.44},{"t":2009.45,"v":2.10},{"t":2009.5,"v":1.85},{"t":2009.55,"v":2.05},{"t":2009.6,"v":2.20},{"t":2009.65,"v":1.90},{"t":2009.7,"v":1.58},{"t":2009.75,"v":2.00},{"t":2009.8,"v":2.30},{"t":2009.85,"v":2.15},{"t":2009.9,"v":1.95},{"t":2009.95,"v":2.40},
{"t":2010.0,"v":2.30},{"t":2010.05,"v":2.55},{"t":2010.1,"v":2.83},{"t":2010.15,"v":2.25},{"t":2010.2,"v":1.89},{"t":2010.25,"v":2.15},{"t":2010.3,"v":2.50},{"t":2010.35,"v":2.20},{"t":2010.4,"v":2.67},{"t":2010.45,"v":2.35},{"t":2010.5,"v":1.97},{"t":2010.55,"v":2.25},{"t":2010.6,"v":2.61}
  ],
  "red": [
{"t":1962.0,"v":1.33},{"t":1962.5,"v":1.20},{"t":1963.0,"v":0.97},{"t":1963.5,"v":0.62},{"t":1964.0,"v":0.15},{"t":1964.5,"v":-0.33},{"t":1965.0,"v":-0.72},{"t":1965.5,"v":-1.05},{"t":1966.0,"v":-1.33},{"t":1966.5,"v":-1.50},
{"t":1967.0,"v":-1.56},{"t":1967.5,"v":-1.59},{"t":1968.0,"v":-1.63},{"t":1968.5,"v":-1.69},{"t":1969.0,"v":-1.78},{"t":1969.5,"v":-1.91},{"t":1970.0,"v":-2.07},{"t":1970.5,"v":-2.22},{"t":1971.0,"v":-2.42},{"t":1971.5,"v":-2.63},
{"t":1972.0,"v":-2.78},{"t":1972.5,"v":-2.83},{"t":1973.0,"v":-2.76},{"t":1973.5,"v":-2.57},{"t":1974.0,"v":-2.33},{"t":1974.5,"v":-2.10},{"t":1975.0,"v":-1.97},{"t":1975.5,"v":-1.90},{"t":1976.0,"v":-1.89},{"t":1976.5,"v":-1.89},
{"t":1977.0,"v":-1.88},{"t":1977.5,"v":-1.82},{"t":1978.0,"v":-1.71},{"t":1978.5,"v":-1.50},{"t":1979.0,"v":-1.25},{"t":1979.5,"v":-0.98},{"t":1980.0,"v":-0.72},{"t":1980.5,"v":-0.52},{"t":1981.0,"v":-0.39},{"t":1981.5,"v":-0.34},
{"t":1982.0,"v":-0.35},{"t":1982.5,"v":-0.40},{"t":1983.0,"v":-0.42},{"t":1983.5,"v":-0.32},{"t":1984.0,"v":-0.06},{"t":1984.5,"v":0.22},{"t":1985.0,"v":0.49},{"t":1985.5,"v":0.72},{"t":1986.0,"v":0.93},{"t":1986.5,"v":1.06},
{"t":1987.0,"v":1.11},{"t":1987.5,"v":1.08},{"t":1988.0,"v":0.99},{"t":1988.5,"v":0.84},{"t":1989.0,"v":0.62},{"t":1989.5,"v":0.36},{"t":1990.0,"v":0.08},{"t":1990.5,"v":-0.15},{"t":1991.0,"v":-0.32},{"t":1991.5,"v":-0.43},
{"t":1992.0,"v":-0.51},{"t":1992.5,"v":-0.57},{"t":1993.0,"v":-0.62},{"t":1993.5,"v":-0.65},{"t":1994.0,"v":-0.61},{"t":1994.5,"v":-0.55},{"t":1995.0,"v":-0.43},{"t":1995.5,"v":-0.27},{"t":1996.0,"v":-0.02},{"t":1996.5,"v":0.22},
{"t":1997.0,"v":0.50},{"t":1997.5,"v":0.80},{"t":1998.0,"v":1.10},{"t":1998.5,"v":1.45},{"t":1999.0,"v":1.69},{"t":1999.5,"v":1.89},{"t":2000.0,"v":2.06},{"t":2000.5,"v":2.23},{"t":2001.0,"v":2.40},{"t":2001.5,"v":2.57},
{"t":2002.0,"v":2.73},{"t":2002.5,"v":2.92},{"t":2003.0,"v":3.09},{"t":2003.5,"v":3.19},{"t":2003.75,"v":3.22},{"t":2004.0,"v":3.19},{"t":2004.5,"v":3.07},{"t":2005.0,"v":2.85},{"t":2005.5,"v":2.60},{"t":2006.0,"v":2.25},{"t":2006.5,"v":1.90},
{"t":2007.0,"v":1.66},{"t":2007.5,"v":1.53},{"t":2008.0,"v":1.54},{"t":2008.5,"v":1.62},{"t":2009.0,"v":1.76},{"t":2009.5,"v":1.95},{"t":2010.0,"v":2.17},{"t":2010.5,"v":2.34}
  ],
  "green": [{"t":1962.0,"v":-0.275},{"t":2010.5,"v":0.288}]
 },
 "layer": [
  {
   "data": {"name": "blue"},
   "mark": {"type": "line", "clip": true, "strokeWidth": 1.5},
   "encoding": {
    "x": {"field": "t", "type": "quantitative", "scale": {"domain": [1962, 2011], "nice": false, "zero": false},
          "axis": {"orient": "bottom", "values": [1965,1970,1975,1980,1985,1990,1995,2000,2005,2010], "format": "d", "title": null, "tickSize": -10, "labelPadding": 26, "grid": true, "gridDash": [1.5, 14.5], "gridColor": "#333333", "gridWidth": 1.5}},
    "y": {"field": "v", "type": "quantitative", "scale": {"domain": [-4, 4], "nice": false, "zero": false},
          "axis": {"orient": "left", "values": [-4,-3,-2,-1,0,1,2,3,4], "format": "d", "tickSize": -10, "labelPadding": 23, "grid": true, "gridDash": [1.5, 14.5], "gridColor": "#333333", "gridWidth": 1.5,
                   "title": "x 10⁻⁹", "titleAngle": 0, "titleAlign": "left", "titleBaseline": "alphabetic", "titleX": 0, "titleY": -17, "titleFont": "Liberation Sans", "titleFontSize": 28, "titleFontWeight": "bold", "titleColor": "black"}},
    "color": {"datum": "C20: EOP−Wind−Current", "scale": {"domain": ["C20: EOP−Wind−Current", "C20: EOP (5Y Low−Pass Fit)", "C20 Rate (IERS2003)"], "range": ["#0000f0", "#f00000", "#10a010"]},
              "legend": {"title": null, "orient": "none", "legendX": 17, "legendY": 17, "symbolType": "M-2,0H2", "symbolSize": 576, "symbolStrokeWidth": 4, "labelFont": "Liberation Sans", "labelFontSize": 29.5, "labelFontWeight": "bold", "labelColor": "black", "labelLimit": 700, "padding": 8, "fillColor": "white", "strokeColor": "black", "rowPadding": 3.5, "labelOffset": 25, "symbolOffset": 20,
                         "encode": {"symbols": {"update": {"strokeWidth": {"signal": "datum.value === 'C20: EOP−Wind−Current' ? 1.5 : 4"}}}}}}
   }
  },
  {
   "data": {"name": "red"},
   "mark": {"type": "line", "interpolate": "monotone", "strokeWidth": 4},
   "encoding": {
    "x": {"field": "t", "type": "quantitative", "axis": null},
    "y": {"field": "v", "type": "quantitative", "axis": null},
    "color": {"datum": "C20: EOP (5Y Low−Pass Fit)"}
   }
  },
  {
   "data": {"name": "green"},
   "mark": {"type": "line", "strokeWidth": 4},
   "encoding": {
    "x": {"field": "t", "type": "quantitative",
          "axis": {"orient": "top", "values": [1965,1970,1975,1980,1985,1990,1995,2000,2005,2010], "labels": false, "title": null, "tickSize": -10, "grid": false}},
    "y": {"field": "v", "type": "quantitative",
          "axis": {"orient": "right", "values": [-4,-3,-2,-1,0,1,2,3,4], "labels": false, "title": null, "tickSize": -10, "grid": false}},
    "color": {"datum": "C20 Rate (IERS2003)"}
   }
  }
 ],
 "resolve": {"axis": {"x": "independent", "y": "independent"}}
}
